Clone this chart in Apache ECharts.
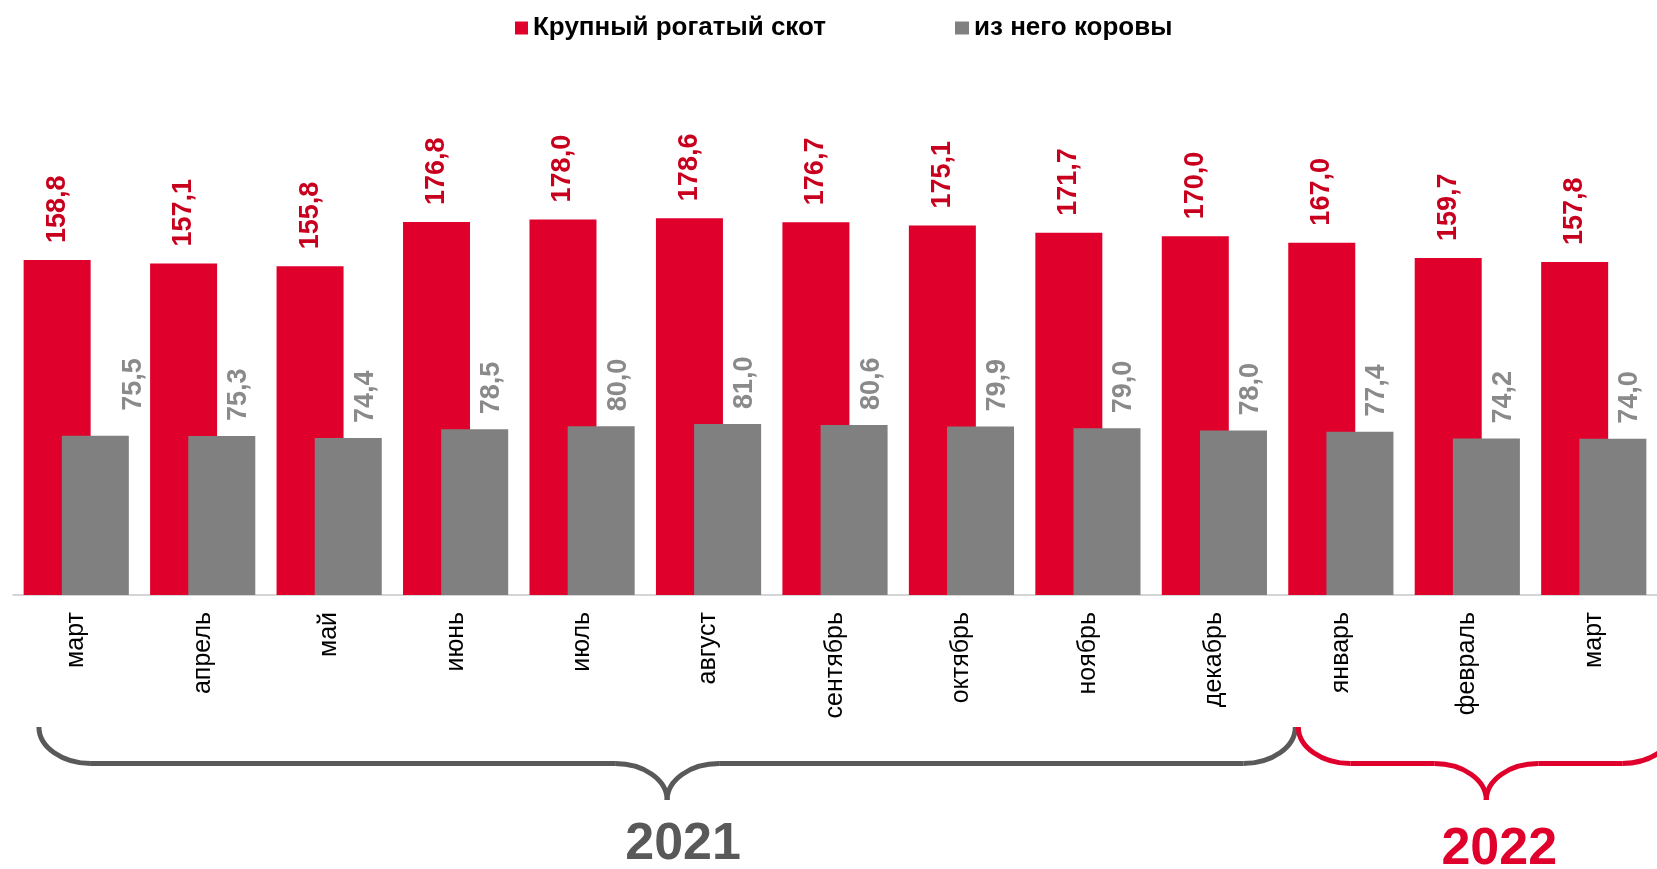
<!DOCTYPE html>
<html>
<head>
<meta charset="utf-8">
<title>Поголовье КРС</title>
<script src="https://cdn.jsdelivr.net/npm/echarts@6.0.0/dist/echarts.min.js"></script>
<style>
  html, body { margin: 0; padding: 0; background: #fff; }
  #chart { width: 1657px; height: 869px; }
</style>
</head>
<body>
<div id="chart"></div>
<script>
// месяцы по оси X
var months = ['март', 'апрель', 'май', 'июнь', 'июль', 'август', 'сентябрь', 'октябрь', 'ноябрь', 'декабрь', 'январь', 'февраль', 'март'];
// Крупный рогатый скот
var cattle = [158.8, 157.1, 155.8, 176.8, 178.0, 178.6, 176.7, 175.1, 171.7, 170.0, 167.0, 159.7, 157.8];
// из него коровы
var cows = [75.5, 75.3, 74.4, 78.5, 80.0, 81.0, 80.6, 79.9, 79.0, 78.0, 77.4, 74.2, 74.0];
// годы под фигурными скобками: [подпись, первый месяц, последний месяц]
var years = [['2021', 0, 9], ['2022', 10, 12]];

var RED = '#e0002c';
var GRAY = '#808080';
var FONT = '"Liberation Sans", Arial, sans-serif';

function fmt(v) {   // 158.8 -> 158,8
  return v.toFixed(1).replace('.', ',');
}

var legendText = { fontFamily: FONT, fontWeight: 'bold', fontSize: 26, color: '#000' };

var chart = echarts.init(document.getElementById('chart'));
var option = {
  animation: false,
  legend: [
    { data: ['Крупный рогатый скот'], left: 510, top: 10, itemWidth: 13, itemHeight: 13, icon: 'rect', textStyle: legendText },
    { data: ['из него коровы'], left: 950, top: 10, itemWidth: 14, itemHeight: 13, icon: 'rect', textStyle: legendText }
  ],
  grid: { left: 13, top: 173, width: 1646, height: 422 },
  xAxis: {
    type: 'category',
    data: months,
    axisLine: { lineStyle: { color: '#c8c8c8', width: 1.5 } },
    axisTick: { length: 7, lineStyle: { color: '#c8c8c8' } },
    axisLabel: { rotate: 90, margin: 17, fontFamily: FONT, fontSize: 25, color: '#000' }
  },
  yAxis: {
    type: 'value',
    min: 0, max: 200,
    show: false,
    splitLine: { show: false }
  },
  series: [
    {
      name: 'Крупный рогатый скот',
      type: 'bar',
      data: cattle,
      barWidth: 67,
      barGap: '-43%',
      itemStyle: { color: RED },
      label: {
        show: true, position: 'top', distance: 17, rotate: 90,
        align: 'left', verticalAlign: 'middle',
        fontFamily: FONT, fontWeight: 'bold', fontSize: 27, color: '#c8001e',
        formatter: function (p) { return fmt(p.value); }
      }
    },
    {
      name: 'из него коровы',
      type: 'bar',
      // первая подпись в оригинале сдвинута правее
      data: cows.map(function (v, i) {
        return i === 0 ? { value: v, label: { offset: [10, 38] } } : v;
      }),
      barWidth: 67,
      itemStyle: { color: GRAY },
      label: {
        show: true, position: 'top', distance: 15, rotate: 90, offset: [0, 17],
        align: 'left', verticalAlign: 'middle',
        fontFamily: FONT, fontWeight: 'bold', fontSize: 27, color: '#8a8a8a',
        formatter: function (p) { return fmt(p.value); }
      }
    }
  ]
};
chart.setOption(option);

// фигурная скобка: концы x0..x1, остриё посередине
function brace(x0, x1, yTop, yMid, yBot, color) {
  var xm = (x0 + x1) / 2;
  var rx = 52, ry = yMid - yTop, ry2 = yBot - yMid;
  var st = { stroke: color, lineWidth: 5, fill: null };
  return [
    { type: 'bezierCurve', shape: { x1: x0, y1: yTop, cpx1: x0, cpy1: yTop + ry * 0.55, cpx2: x0 + rx * 0.45, cpy2: yMid, x2: x0 + rx, y2: yMid }, style: st },
    { type: 'line', shape: { x1: x0 + rx, y1: yMid, x2: xm - rx, y2: yMid }, style: st },
    { type: 'bezierCurve', shape: { x1: xm - rx, y1: yMid, cpx1: xm - rx * 0.45, cpy1: yMid, cpx2: xm, cpy2: yBot - ry2 * 0.55, x2: xm, y2: yBot }, style: st },
    { type: 'bezierCurve', shape: { x1: xm + rx, y1: yMid, cpx1: xm + rx * 0.45, cpy1: yMid, cpx2: xm, cpy2: yBot - ry2 * 0.55, x2: xm, y2: yBot }, style: st },
    { type: 'line', shape: { x1: xm + rx, y1: yMid, x2: x1 - rx, y2: yMid }, style: st },
    { type: 'bezierCurve', shape: { x1: x1, y1: yTop, cpx1: x1, cpy1: yTop + ry * 0.55, cpx2: x1 - rx * 0.45, cpy2: yMid, x2: x1 - rx, y2: yMid }, style: st }
  ];
}

// скобки и годы считаем от положения категорий на оси
var c0 = chart.convertToPixel({ xAxisIndex: 0 }, 0);
var c1 = chart.convertToPixel({ xAxisIndex: 0 }, 1);
var bw = c1 - c0;   // ширина категории
var base = chart.convertToPixel({ yAxisIndex: 0 }, 0);
var yTop = base + 132, yMid = base + 168.5, yBot = base + 205;

var elements = [];
var gx0 = c0 - 0.295 * bw;
var gx1 = chart.convertToPixel({ xAxisIndex: 0 }, years[0][2]) + 0.64 * bw;
var rx0 = gx1 + 3;
var rx1 = rx0 + 2 * (chart.convertToPixel({ xAxisIndex: 0 }, years[1][1]) + 1.15 * bw - rx0);

elements = elements.concat(brace(gx0, gx1, yTop, yMid, yBot, '#595959'));
elements = elements.concat(brace(rx0, rx1, yTop, yMid, yBot, RED));
elements.push({
  type: 'text',
  style: { text: years[0][0], x: (gx0 + gx1) / 2 + 16, y: base + 250, align: 'center', verticalAlign: 'middle',
           fontFamily: FONT, fontWeight: 'bold', fontSize: 52, fill: '#595959' }
});
elements.push({
  type: 'text',
  style: { text: years[1][0], x: (rx0 + rx1) / 2 + 13, y: base + 255, align: 'center', verticalAlign: 'middle',
           fontFamily: FONT, fontWeight: 'bold', fontSize: 52, fill: RED }
});
chart.setOption({ graphic: { elements: elements } });
</script>
</body>
</html>
